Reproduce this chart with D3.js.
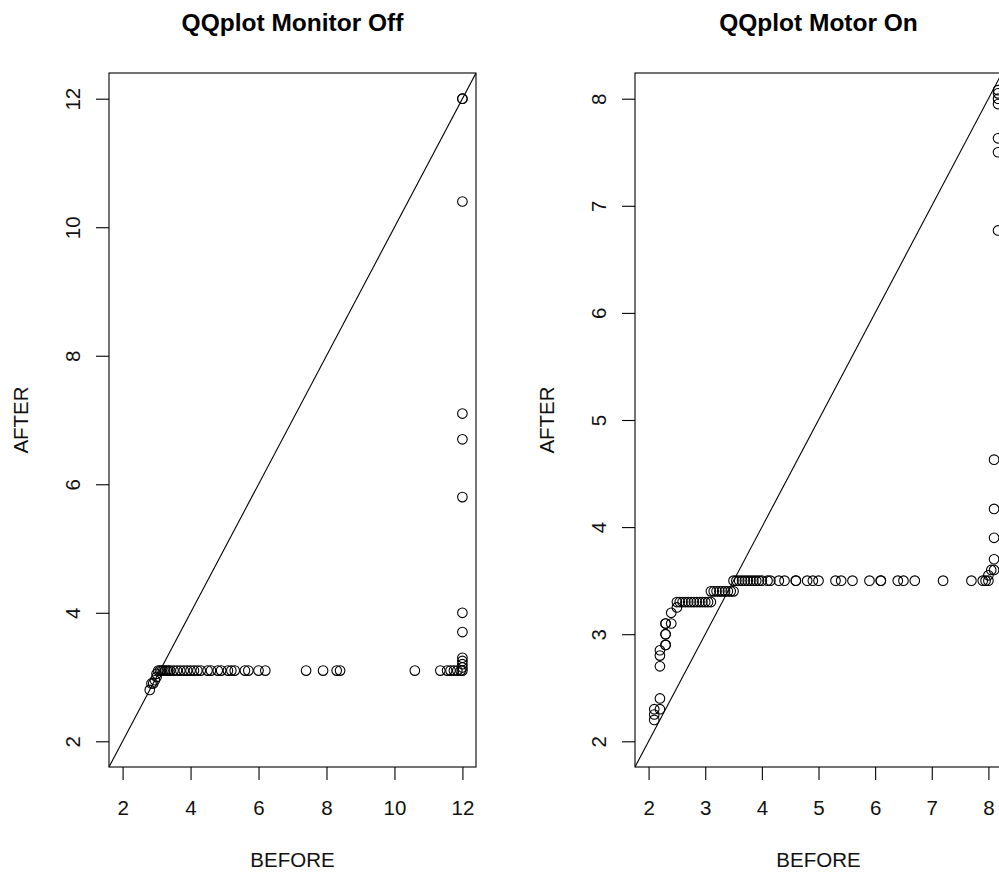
<!DOCTYPE html>
<html>
<head>
<meta charset="utf-8">
<script src="https://cdn.jsdelivr.net/npm/d3@7"></script>
<style>
  body { margin: 0; background: #fff; }
  svg { display: block; font-family: "Liberation Sans", Arial, Helvetica, sans-serif; }
</style>
</head>
<body>
<svg id="qq" width="999" height="873"></svg>
<script>
// QQplot Monitor Off: sorted quantiles
var offBefore = [2.8, 2.85, 2.9, 2.95, 3.0, 3.0, 3.05, 3.1, 3.15, 3.2, 3.25, 3.3, 3.35, 3.4, 3.5, 3.6, 3.7, 3.8, 3.9, 4.0,
  4.1, 4.2, 4.3, 4.5, 4.6, 4.8, 4.9, 5.1, 5.2, 5.3, 5.6, 5.7, 6.0, 6.2, 7.4, 7.9, 8.3, 8.4, 10.6, 11.35,
  11.55, 11.65, 11.75, 11.85, 11.95, 12, 12, 12, 12, 12, 12, 12, 12, 12, 12, 12, 12, 12];
var offAfter = [2.8, 2.9, 2.9, 2.95, 3.0, 3.05, 3.1, 3.1, 3.1, 3.1, 3.1, 3.1, 3.1, 3.1, 3.1, 3.1, 3.1, 3.1, 3.1, 3.1,
  3.1, 3.1, 3.1, 3.1, 3.1, 3.1, 3.1, 3.1, 3.1, 3.1, 3.1, 3.1, 3.1, 3.1, 3.1, 3.1, 3.1, 3.1, 3.1, 3.1,
  3.1, 3.1, 3.1, 3.1, 3.1, 3.1, 3.15, 3.2, 3.25, 3.3, 3.7, 4.0, 5.8, 6.7, 7.1, 10.4, 12, 12];
var offTicks = [2, 4, 6, 8, 10, 12];

// QQplot Motor On
var onBefore = [2.1, 2.1, 2.1, 2.2, 2.2, 2.2, 2.2, 2.2, 2.3, 2.3, 2.3, 2.3, 2.3, 2.3, 2.4, 2.4, 2.5, 2.5, 2.55, 2.6,
  2.65, 2.7, 2.75, 2.8, 2.85, 2.9, 2.95, 3.0, 3.05, 3.1, 3.1, 3.15, 3.2, 3.25, 3.3, 3.35, 3.4, 3.45, 3.5, 3.5,
  3.55, 3.6, 3.65, 3.7, 3.75, 3.8, 3.85, 3.9, 3.95, 4.0, 4.1, 4.15, 4.3, 4.4, 4.6, 4.6, 4.8, 4.9, 5.0, 5.3,
  5.4, 5.6, 5.9, 6.1, 6.1, 6.4, 6.5, 6.7, 7.2, 7.7, 7.9, 7.95, 8.0, 8.0, 8.05, 8.1, 8.1, 8.1, 8.1, 8.1,
  8.17, 8.17, 8.17, 8.17, 8.17, 8.17, 8.17];
var onAfter = [2.2, 2.25, 2.3, 2.3, 2.4, 2.7, 2.8, 2.85, 2.9, 2.9, 3.0, 3.0, 3.1, 3.1, 3.1, 3.2, 3.25, 3.3, 3.3, 3.3,
  3.3, 3.3, 3.3, 3.3, 3.3, 3.3, 3.3, 3.3, 3.3, 3.3, 3.4, 3.4, 3.4, 3.4, 3.4, 3.4, 3.4, 3.4, 3.4, 3.5,
  3.5, 3.5, 3.5, 3.5, 3.5, 3.5, 3.5, 3.5, 3.5, 3.5, 3.5, 3.5, 3.5, 3.5, 3.5, 3.5, 3.5, 3.5, 3.5, 3.5,
  3.5, 3.5, 3.5, 3.5, 3.5, 3.5, 3.5, 3.5, 3.5, 3.5, 3.5, 3.5, 3.5, 3.55, 3.6, 3.6, 3.7, 3.9, 4.17, 4.63,
  6.77, 7.5, 7.63, 7.95, 8.0, 8.05, 8.08];
var onTicks = [2, 3, 4, 5, 6, 7, 8];

var svg = d3.select("#qq");
svg.append("rect").attr("width", 999).attr("height", 873).attr("fill", "#fff");

var drawPanel = function(opts) {
  var box = { left: opts.left, top: 73, width: 367, height: 694 },
    g = svg.append("g").attr("transform", "translate(" + box.left + "," + box.top + ")");

  // R style: range of data padded by 4% each side
  var lo = opts.lim[0], hi = opts.lim[1], pad = (hi - lo) * 0.04;
  var x = d3.scaleLinear().domain([lo - pad, hi + pad]).range([0, box.width]);
  var y = d3.scaleLinear().domain([lo - pad, hi + pad]).range([box.height, 0]);
  var fmt = d3.format("d");

  var xAxis = g.append("g")
      .attr("transform", "translate(0," + box.height + ")")
      .call(d3.axisBottom(x).tickValues(opts.ticks).tickFormat(fmt).tickSize(13).tickSizeOuter(0));
  var yAxis = g.append("g")
      .call(d3.axisLeft(y).tickValues(opts.ticks).tickFormat(fmt).tickSize(13).tickSizeOuter(0));

  [xAxis, yAxis].forEach(function(a) {
    a.select(".domain").remove();
    a.selectAll("line").attr("stroke", "#000").attr("stroke-width", 1.1);
    a.selectAll("text").attr("fill", "#111").style("font-size", "20.5px")
      .style("font-family", "'Liberation Sans', Arial, sans-serif");
  });
  xAxis.selectAll("text").attr("dy", null).attr("y", 48);

  // y tick labels run up the axis
  yAxis.selectAll(".tick text")
      .attr("x", null).attr("dy", null)
      .attr("text-anchor", "middle")
      .attr("transform", "translate(-29,0) rotate(-90)");

  var clipId = "clip" + opts.left;
  g.append("clipPath").attr("id", clipId)
    .append("rect").attr("width", box.width).attr("height", box.height);

  // y = x reference line
  g.append("line")
      .attr("clip-path", "url(#" + clipId + ")")
      .attr("x1", x(lo - pad)).attr("y1", y(lo - pad))
      .attr("x2", x(hi + pad)).attr("y2", y(hi + pad))
      .attr("stroke", "#000")
      .attr("stroke-width", 1.1);

  var pts = opts.before.map((b, i) => ({ b: b, a: opts.after[i] }));
  g.selectAll("circle")
      .data(pts)
    .enter()
      .append("circle")
      .attr("cx", d => x(d.b))
      .attr("cy", d => y(d.a))
      .attr("r", 4.8)
      .attr("fill", "none")
      .attr("stroke", "#000")
      .attr("stroke-width", 1.1);

  g.append("rect")
      .attr("width", box.width).attr("height", box.height)
      .attr("fill", "none").attr("stroke", "#000").attr("stroke-width", 1.1);

  g.append("text")
      .attr("x", box.width / 2).attr("y", -42)
      .attr("text-anchor", "middle")
      .style("font-size", "24.5px").style("font-weight", "bold")
      .attr("fill", "#000")
      .text(opts.title);

  g.append("text")
      .attr("x", box.width / 2).attr("y", box.height + 100)
      .attr("text-anchor", "middle")
      .style("font-size", "20.5px")
      .attr("fill", "#111")
      .text("BEFORE");

  g.append("text")
      .attr("transform", "translate(-81," + (box.height / 2) + ") rotate(-90)")
      .attr("text-anchor", "middle")
      .style("font-size", "20.5px")
      .attr("fill", "#111")
      .text("AFTER");
};

drawPanel({ left: 109, title: "QQplot Monitor Off", lim: [2, 12], ticks: offTicks, before: offBefore, after: offAfter });
drawPanel({ left: 635, title: "QQplot Motor On", lim: [2, 8], ticks: onTicks, before: onBefore, after: onAfter });
</script>
</body>
</html>
